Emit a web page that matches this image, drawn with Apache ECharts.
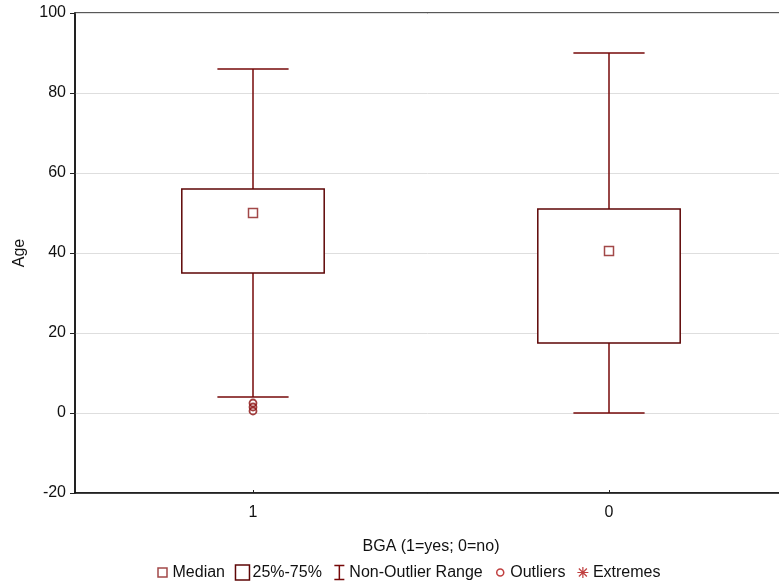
<!DOCTYPE html>
<html>
<head>
<meta charset="utf-8">
<script src="https://cdn.jsdelivr.net/npm/echarts@6/dist/echarts.min.js"></script>
<style>
html,body{margin:0;padding:0;background:#fff;overflow:hidden;}
#chart{width:779px;height:581px;}
</style>
</head>
<body>
<div id="chart"></div>
<script>
// ---- data ----
const categories = ['1', '0'];
const whiskerLow = [4, 0];
const q1Values = [35, 17.5];
const medianValues = [50, 40.5];
const q3Values = [56, 51];
const whiskerHigh = [86, 90];
const outlierCategory = ['1', '1', '1'];
const outlierValues = [2.5, 1.5, 0.5];
const yTicks = [-20, 0, 20, 40, 60, 80, 100];

const FONT = '"Liberation Sans", Arial, sans-serif';
const boxColor = '#5e0606';
const whiskColor = '#760808';
const markColor = '#8b1a1a';

const boxData = categories.map((c, i) => [i, q1Values[i], q3Values[i]]);
const whiskerData = categories.map((c, i) => [i, whiskerLow[i], q1Values[i], q3Values[i], whiskerHigh[i]]);
const medianData = categories.map((c, i) => [c, medianValues[i]]);
const outlierData = outlierValues.map((v, i) => [outlierCategory[i], v]);

const chart = echarts.init(document.getElementById('chart'), null, {renderer: 'canvas'});

function renderBox(params, api) {
  const x = api.value(0);
  const lo = api.coord([x, api.value(1)]);
  const hi = api.coord([x, api.value(2)]);
  const bw = api.size([1, 0])[0] * 0.4;
  return {
    type: 'rect',
    shape: {x: lo[0] - bw / 2, y: hi[1], width: bw, height: lo[1] - hi[1]},
    style: {fill: '#fff', stroke: boxColor, lineWidth: 1.5}
  };
}

function renderWhisker(params, api) {
  const x = api.value(0);
  const pLow = api.coord([x, api.value(1)]);
  const pQ1 = api.coord([x, api.value(2)]);
  const pQ3 = api.coord([x, api.value(3)]);
  const pHigh = api.coord([x, api.value(4)]);
  const cw = api.size([1, 0])[0] * 0.2;
  const st = {stroke: whiskColor, lineWidth: 1.5, fill: 'none'};
  return {
    type: 'group',
    children: [
      {type: 'line', shape: {x1: pHigh[0], y1: pHigh[1], x2: pQ3[0], y2: pQ3[1]}, style: st},
      {type: 'line', shape: {x1: pQ1[0], y1: pQ1[1], x2: pLow[0], y2: pLow[1]}, style: st},
      {type: 'line', shape: {x1: pHigh[0] - cw / 2, y1: pHigh[1], x2: pHigh[0] + cw / 2, y2: pHigh[1]}, style: st},
      {type: 'line', shape: {x1: pLow[0] - cw / 2, y1: pLow[1], x2: pLow[0] + cw / 2, y2: pLow[1]}, style: st}
    ]
  };
}

// legend icons in a 16x16 frame (M points define the frame)
const F = 'M0,0 L0,0 M16,16 L16,16 ';
const iconMedian = 'path://' + F + 'M3.5,3.5 L12.5,3.5 L12.5,12.5 L3.5,12.5 Z';
const iconBox = 'path://' + F + 'M1,0.5 L15,0.5 L15,15.5 L1,15.5 Z';
const iconRange = 'path://' + F + 'M3,1 L13,1 M8,1 L8,15 M3,15 L13,15';
const iconOutlier = 'path://' + F + 'M8,4.5 A3.5,3.5 0 1 1 7.99,4.5 Z';
const iconExtreme = 'path://' + F + 'M8,2.5 L8,13.5 M2.5,8 L13.5,8 M4,4 L12,12 M12,4 L4,12';

const option = {
  backgroundColor: '#fff',
  animation: false,
  textStyle: {fontFamily: FONT},
  grid: {left: 75, width: 712, top: 13, bottom: 88, outerBoundsMode: 'none', containLabel: false, show: true, borderColor: '#222', borderWidth: 1.5, backgroundColor: 'transparent'},
  legend: {
    top: 562,
    left: 152,
    padding: 0,
    itemWidth: 16,
    itemHeight: 16,
    itemGap: 7,
    selectedMode: false,
    textStyle: {fontFamily: FONT, fontSize: 16, color: '#111', padding: [0, 0, 0, -3]},
    data: [
      {name: 'Median', icon: iconMedian, itemStyle: {color: 'none', borderColor: markColor, borderWidth: 1.5}},
      {name: '25%-75%', icon: iconBox, itemStyle: {color: 'none', borderColor: boxColor, borderWidth: 1.5}},
      {name: 'Non-Outlier Range', icon: iconRange, itemStyle: {color: 'none', borderColor: whiskColor, borderWidth: 1.5}},
      {name: 'Outliers', icon: iconOutlier, itemStyle: {color: 'none', borderColor: '#b01010', borderWidth: 1.5}},
      {name: 'Extremes', icon: iconExtreme, itemStyle: {color: 'none', borderColor: '#b01010', borderWidth: 1.2}}
    ]
  },
  xAxis: {
    type: 'category',
    data: categories,
    boundaryGap: true,
    name: 'BGA (1=yes; 0=no)',
    nameLocation: 'middle',
    nameGap: 46,
    nameTextStyle: {fontFamily: FONT, fontSize: 16, color: '#111'},
    axisLine: {onZero: false, lineStyle: {color: '#111', width: 1.5}},
    axisTick: {show: true, inside: true, length: 3, alignWithLabel: true, lineStyle: {color: '#222'}},
    axisLabel: {fontFamily: FONT, fontSize: 16, color: '#111', margin: 12},
    splitLine: {show: false}
  },
  yAxis: {
    type: 'value',
    min: yTicks[0],
    max: yTicks[yTicks.length - 1],
    interval: 20,
    name: 'Age',
    nameLocation: 'middle',
    nameGap: 47,
    nameTextStyle: {fontFamily: FONT, fontSize: 16, color: '#111'},
    axisLine: {show: true, lineStyle: {color: '#111', width: 1.5}},
    axisTick: {show: true, length: 5, lineStyle: {color: '#222'}},
    axisLabel: {fontFamily: FONT, fontSize: 16, color: '#111', margin: 9},
    splitLine: {show: true, lineStyle: {color: '#dedede', width: 1}}
  },
  series: [
    {
      name: 'Non-Outlier Range',
      type: 'custom',
      renderItem: renderWhisker,
      data: whiskerData,
      encode: {x: 0, y: [1, 2, 3, 4]},
      z: 2,
      itemStyle: {color: whiskColor}
    },
    {
      name: '25%-75%',
      type: 'custom',
      renderItem: renderBox,
      data: boxData,
      encode: {x: 0, y: [1, 2]},
      z: 3,
      itemStyle: {color: boxColor}
    },
    {
      name: 'Median',
      type: 'scatter',
      data: medianData,
      symbol: 'rect',
      symbolSize: 9,
      z: 4,
      itemStyle: {color: '#fff', borderColor: markColor, borderWidth: 1.5}
    },
    {
      name: 'Outliers',
      type: 'scatter',
      data: outlierData,
      symbol: 'circle',
      symbolSize: 7,
      z: 4,
      itemStyle: {color: 'rgba(255,255,255,0)', borderColor: '#8a0c0c', borderWidth: 1.8}
    },
    {
      name: 'Extremes',
      type: 'scatter',
      data: [],
      itemStyle: {color: '#b01010'}
    }
  ]
};
chart.setOption(option);
</script>
</body>
</html>
